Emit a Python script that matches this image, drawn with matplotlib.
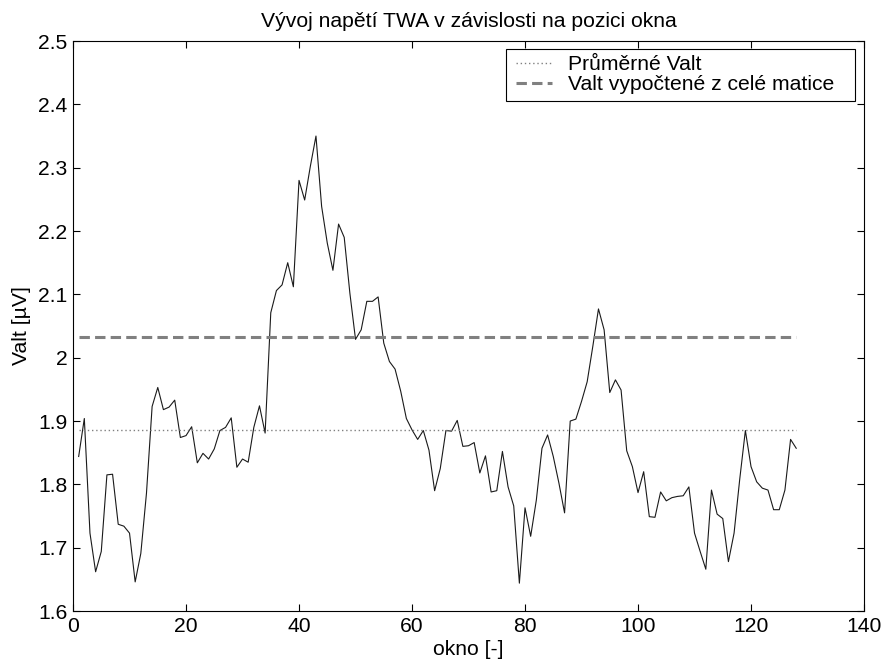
"""Valt (TWA) as a function of window position, recreated from a MATLAB figure."""

import matplotlib

matplotlib.use("Agg")
import matplotlib.pyplot as plt  # noqa: E402
from matplotlib.legend_handler import HandlerLine2D  # noqa: E402
from matplotlib.ticker import FormatStrFormatter, MultipleLocator  # noqa: E402

plt.rcParams["font.family"] = ["Liberation Sans", "DejaVu Sans"]

# window index 1..128 and Valt per window [uV]
window = list(range(1, 129))
valt = [
    1.844, 1.904, 1.723, 1.662, 1.694, 1.815, 1.816, 1.737, 1.734, 1.723,
    1.646, 1.691, 1.786, 1.923, 1.953, 1.918, 1.922, 1.933, 1.874, 1.877,
    1.891, 1.834, 1.849, 1.840, 1.856, 1.885, 1.890, 1.905, 1.827, 1.840,
    1.835, 1.890, 1.924, 1.881, 2.071, 2.106, 2.115, 2.150, 2.112, 2.280,
    2.249, 2.302, 2.350, 2.239, 2.181, 2.138, 2.211, 2.190, 2.102, 2.029,
    2.044, 2.089, 2.089, 2.096, 2.023, 1.994, 1.982, 1.947, 1.904, 1.886,
    1.871, 1.885, 1.854, 1.790, 1.825, 1.885, 1.884, 1.901, 1.860, 1.861,
    1.866, 1.818, 1.845, 1.788, 1.790, 1.852, 1.796, 1.766, 1.644, 1.763,
    1.718, 1.775, 1.857, 1.878, 1.844, 1.802, 1.755, 1.900, 1.903, 1.931,
    1.962, 2.018, 2.077, 2.044, 1.945, 1.965, 1.949, 1.853, 1.828, 1.787,
    1.820, 1.749, 1.748, 1.788, 1.774, 1.779, 1.781, 1.782, 1.796, 1.723,
    1.694, 1.666, 1.791, 1.753, 1.746, 1.678, 1.723, 1.808, 1.885, 1.828,
    1.804, 1.794, 1.791, 1.760, 1.760, 1.791, 1.871, 1.857,
]
valt_mean = 1.886   # "Průměrné Valt"
valt_full = 2.033   # "Valt vypočtené z celé matice"

FS = 15.2

fig = plt.figure(figsize=(8.84, 6.62), dpi=100)
ax = fig.add_axes([0.0826, 0.077, 0.8948, 0.861])

ax.plot(window, valt, color="#1a1a1a", lw=0.8)
ax.plot([window[0], window[-1]], [valt_mean] * 2, color="#808080", lw=1.0,
        ls=(0, (1, 2)), label="Průměrné Valt")
ax.plot([window[0], window[-1]], [valt_full] * 2, color="#808080", lw=2.2,
        ls=(0, (3.4, 1.7)), label="Valt vypočtené z celé matice")

ax.set_xlim(0, 140)
ax.set_ylim(1.6, 2.5)
ax.xaxis.set_major_locator(MultipleLocator(20))
ax.yaxis.set_major_locator(MultipleLocator(0.1))
ax.yaxis.set_major_formatter(FormatStrFormatter("%g"))
ax.tick_params(direction="in", length=5, width=0.8, top=True, right=True,
               labelsize=FS, pad=4)
for s in ax.spines.values():
    s.set_linewidth(0.8)

ax.set_title("Vývoj napětí TWA v závislosti na pozici okna", fontsize=FS, pad=10)
ax.set_xlabel("okno [-]", fontsize=FS, labelpad=3)
ax.set_ylabel("Valt [µV]", fontsize=FS, labelpad=5)

# MATLAB-style legend: fixed width box, text left aligned, slack on the right
leg = ax.legend(loc="upper right", bbox_to_anchor=(0.547, 0.0, 0.441, 0.986),
                mode="expand", borderaxespad=0, fontsize=FS, fancybox=False,
                framealpha=1, edgecolor="black", handlelength=1.9,
                handletextpad=0.75, borderpad=0.3, labelspacing=0.05,
                handler_map={matplotlib.lines.Line2D: HandlerLine2D(xpad=0.2)})
leg.get_frame().set_linewidth(0.8)

fig.savefig("out.png", dpi=100)
